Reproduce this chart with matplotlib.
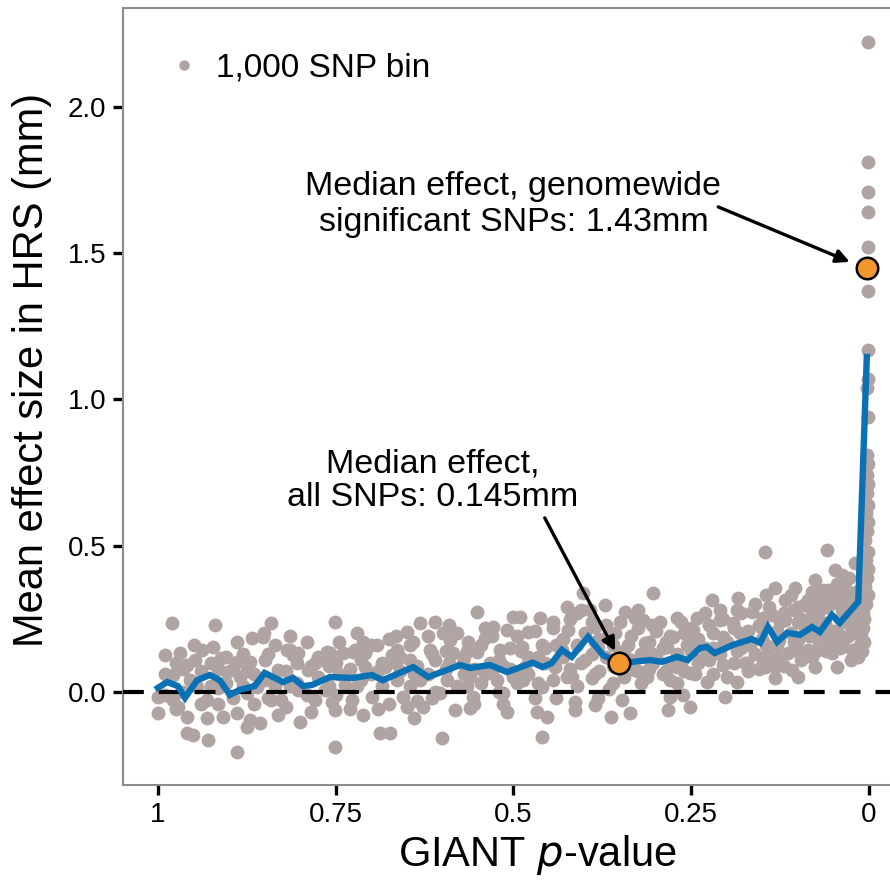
import matplotlib
matplotlib.use("Agg")
import matplotlib.pyplot as plt
from matplotlib.lines import Line2D

plt.rcParams['font.family'] = ['Liberation Sans', 'DejaVu Sans']

# ---- 1,000 SNP bins: GIANT p-value (x) and mean effect in HRS (mm) ----
bin_p = [0.980, 0.920, 0.990, 0.969, 0.938, 0.959, 0.948, 0.923, 0.911, 0.889,
         0.868, 0.852, 0.889, 0.871, 0.903, 0.885, 0.979, 1.000, 1.000, 0.972,
         0.959, 0.931, 0.909, 0.889, 0.871, 0.857, 0.959, 0.951, 0.930, 0.889,
         0.979, 0.931, 0.945, 0.916, 0.875, 0.861,
         0.841, 0.851, 0.751, 0.712, 0.692, 0.819, 0.810, 0.762, 0.726, 0.688,
         0.751, 0.712, 0.800, 0.831, 0.751,
         0.814, 0.803, 0.758, 0.740, 0.709, 0.723, 0.671, 0.779, 0.765, 0.789,
         0.831, 0.709, 0.681, 0.841, 0.827, 0.779, 0.755, 0.727, 0.699, 0.803,
         0.765, 0.737,
         0.551, 0.631, 0.610, 0.599, 0.650, 0.529, 0.509, 0.501, 0.641, 0.589,
         0.564, 0.540, 0.664, 0.617, 0.585, 0.551, 0.519, 0.646, 0.571, 0.533,
         0.664, 0.631, 0.593, 0.561, 0.523, 0.501, 0.655, 0.603, 0.557, 0.515,
         0.650, 0.627, 0.582, 0.561, 0.509, 0.601, 0.674,
         0.402, 0.371, 0.491, 0.463, 0.411, 0.392, 0.343, 0.329, 0.479, 0.444,
         0.423, 0.385, 0.357, 0.325, 0.488, 0.460, 0.432, 0.381, 0.339, 0.484,
         0.442, 0.418, 0.390, 0.360, 0.329, 0.487, 0.460, 0.414, 0.381, 0.347,
         0.467, 0.453, 0.414, 0.385, 0.363, 0.460, 0.336,
         0.146, 0.304, 0.221, 0.184, 0.165, 0.318, 0.294, 0.270, 0.242, 0.210,
         0.191, 0.149, 0.276, 0.248, 0.205, 0.181, 0.315, 0.284, 0.256, 0.219,
         0.167, 0.304, 0.270, 0.238, 0.205, 0.172, 0.149, 0.312, 0.280, 0.252,
         0.228, 0.186, 0.280, 0.262, 0.203, 0.283, 0.252,
         0.059, 0.048, 0.038, 0.076, 0.020, 0.132, 0.104, 0.058, 0.034, 0.118,
         0.086, 0.066, 0.044, 0.100, 0.072, 0.038, 0.020, 0.136, 0.118, 0.086,
         0.062, 0.030, 0.010, 0.127, 0.100, 0.072, 0.038, 0.015, 0.142, 0.114,
         0.086, 0.052, 0.024, 0.132, 0.108, 0.076, 0.045, 0.132, 0.100, 0.146]
bin_y = [0.236, 0.229, 0.126, 0.133, 0.144, 0.092, 0.109, 0.154, 0.116, 0.171,
         0.185, 0.188, 0.103, 0.103, 0.068, 0.051, 0.058, -0.017, -0.072, -0.051,
         -0.085, -0.089, -0.085, -0.072, -0.096, -0.106, -0.140, -0.147, -0.164, -0.205,
         -0.027, -0.027, 0.017, 0.014, -0.003, 0.017,
         0.236, 0.200, 0.240, 0.171, 0.161, 0.144, 0.126, 0.137, 0.137, -0.140,
         -0.188, -0.079, -0.103, -0.079, -0.062,
         0.144, 0.133, 0.133, 0.133, 0.133, 0.144, 0.126, 0.099, 0.109, 0.075,
         0.075, 0.085, 0.085, -0.027, -0.027, -0.027, -0.034, -0.027, -0.017, 0.007,
         0.007, 0.024,
         0.274, 0.236, 0.240, 0.200, 0.205, 0.222, 0.212, 0.256, 0.171, 0.178,
         0.171, 0.185, 0.144, 0.144, 0.133, 0.137, 0.144, 0.109, 0.099, 0.099,
         0.040, 0.040, 0.040, 0.051, 0.040, 0.051, -0.017, -0.003, -0.017, -0.003,
         -0.051, -0.051, -0.062, -0.055, -0.068, -0.157, -0.140,
         0.338, 0.297, 0.256, 0.253, 0.270, 0.280, 0.274, 0.253, 0.205, 0.219,
         0.212, 0.222, 0.200, 0.219, 0.154, 0.161, 0.144, 0.150, 0.161, 0.085,
         0.085, 0.051, 0.048, 0.031, 0.075, 0.040, 0.017, -0.034, -0.021, -0.027,
         -0.068, -0.085, -0.062, -0.044, -0.085, -0.154, -0.072,
         0.479, 0.338, 0.315, 0.321, 0.274, 0.246, 0.240, 0.253, 0.253, 0.246,
         0.236, 0.253, 0.188, 0.212, 0.188, 0.202, 0.168, 0.154, 0.161, 0.150,
         0.161, 0.099, 0.085, 0.109, 0.092, 0.099, 0.099, 0.051, 0.040, 0.065,
         0.034, 0.034, -0.017, -0.010, -0.017, -0.062, -0.051,
         0.485, 0.417, 0.400, 0.383, 0.441, 0.356, 0.356, 0.349, 0.356, 0.315,
         0.315, 0.315, 0.325, 0.291, 0.270, 0.280, 0.291, 0.263, 0.246, 0.246,
         0.236, 0.236, 0.256, 0.178, 0.178, 0.178, 0.188, 0.202, 0.133, 0.133,
         0.144, 0.133, 0.144, 0.085, 0.075, 0.085, 0.085, 0.048, 0.051, 0.085]

# denser core of bins around the trend
core_p = [0.990, 0.990, 0.965, 0.965, 0.955, 0.940, 0.940, 0.925, 0.925, 0.905,
          0.905, 0.895, 0.895, 0.880, 0.880, 0.865, 0.865, 0.850, 0.850, 0.835,
          0.835, 0.820, 0.820, 0.805, 0.805, 0.790, 0.790, 0.775, 0.775, 0.760,
          0.760, 0.745, 0.745, 0.730, 0.730, 0.715, 0.715, 0.700, 0.700, 0.685,
          0.685, 0.675, 0.675, 0.660, 0.660, 0.645, 0.645, 0.635, 0.635, 0.620,
          0.620, 0.610, 0.610, 0.595, 0.595, 0.580, 0.580, 0.570, 0.570, 0.555,
          0.555, 0.545, 0.545, 0.530, 0.530, 0.520, 0.520, 0.505, 0.505, 0.495,
          0.495, 0.480, 0.480, 0.470, 0.470, 0.455, 0.455, 0.445, 0.445, 0.430,
          0.430, 0.420, 0.420, 0.410, 0.410, 0.400, 0.400, 0.390, 0.390, 0.380,
          0.380, 0.370, 0.370, 0.360, 0.360, 0.345, 0.345, 0.335, 0.335, 0.320,
          0.320, 0.310, 0.310, 0.300, 0.300, 0.290, 0.290, 0.280, 0.280, 0.270,
          0.270, 0.260, 0.260, 0.250, 0.250, 0.240, 0.240, 0.230, 0.230, 0.220,
          0.220, 0.210, 0.210, 0.200, 0.200, 0.190, 0.190, 0.180, 0.180, 0.170,
          0.170, 0.160, 0.160, 0.150, 0.150, 0.140, 0.140, 0.130, 0.130, 0.120,
          0.120, 0.110, 0.110, 0.100, 0.100, 0.090, 0.090, 0.080, 0.080, 0.070,
          0.070, 0.060, 0.060, 0.050, 0.050, 0.040, 0.040, 0.030, 0.030, 0.025,
          0.025, 0.018, 0.018, 0.012, 0.012,
          0.975, 0.975, 0.950, 0.950, 0.915, 0.915, 0.875, 0.875, 0.845, 0.845,
          0.815, 0.815, 0.785, 0.785, 0.750, 0.750, 0.720, 0.720, 0.690, 0.690,
          0.665, 0.665, 0.640, 0.640, 0.615, 0.615, 0.590, 0.590, 0.565, 0.565,
          0.540, 0.540, 0.515, 0.515, 0.490, 0.490, 0.465, 0.465, 0.440, 0.440,
          0.425, 0.425, 0.405, 0.405, 0.385, 0.385, 0.365, 0.365, 0.350, 0.350,
          0.325, 0.325, 0.305, 0.305, 0.285, 0.285, 0.265, 0.265, 0.245, 0.245,
          0.225, 0.225, 0.205, 0.205, 0.185, 0.185, 0.175, 0.175, 0.155, 0.155,
          0.145, 0.145, 0.125, 0.125, 0.105, 0.105, 0.095, 0.095, 0.085, 0.085,
          0.075, 0.075, 0.065, 0.065, 0.055, 0.055, 0.045, 0.045, 0.035, 0.035,
          0.028, 0.028, 0.022, 0.022, 0.015, 0.015, 0.010, 0.010, 0.007, 0.007]
core_y = [0.060, -0.010, 0.080, 0.000, 0.040, 0.070, -0.040, 0.100, 0.020, 0.030,
          0.120, -0.020, 0.080, 0.130, 0.020, 0.060, -0.040, 0.110, 0.040, 0.020,
          0.160, 0.070, -0.050, 0.100, 0.030, 0.170, -0.010, 0.050, 0.120, 0.020,
          0.090, 0.170, 0.060, 0.080, -0.060, 0.040, 0.110, 0.160, 0.060, 0.020,
          0.100, 0.180, -0.040, 0.070, 0.120, 0.020, 0.160, 0.090, -0.030, 0.060,
          0.190, 0.110, 0.000, 0.080, 0.140, 0.020, 0.200, 0.120, 0.060, 0.080,
          -0.040, 0.160, 0.030, 0.070, 0.190, 0.110, 0.000, 0.150, 0.080, 0.030,
          0.190, 0.120, 0.060, 0.210, -0.020, 0.100, 0.150, 0.040, 0.240, 0.120,
          0.180, 0.080, 0.250, 0.160, 0.020, 0.200, 0.110, 0.130, 0.240, 0.180,
          0.070, 0.120, 0.230, 0.090, 0.160, 0.140, 0.050, 0.110, 0.190, 0.130,
          0.030, 0.170, 0.080, 0.120, 0.210, 0.060, 0.150, 0.190, 0.100, 0.130,
          0.030, 0.200, 0.070, 0.140, 0.220, 0.100, 0.180, 0.150, 0.270, 0.060,
          0.200, 0.130, 0.280, 0.170, 0.050, 0.100, 0.220, 0.150, 0.270, 0.210,
          0.070, 0.130, 0.300, 0.180, 0.220, 0.110, 0.290, 0.210, 0.160, 0.090,
          0.270, 0.200, 0.330, 0.140, 0.240, 0.210, 0.300, 0.120, 0.340, 0.230,
          0.180, 0.290, 0.140, 0.210, 0.310, 0.250, 0.150, 0.320, 0.190, 0.270,
          0.110, 0.340, 0.230, 0.270, 0.160,
          0.100, -0.060, 0.030, 0.160, -0.040, 0.080, 0.070, -0.120, 0.130, -0.020,
          0.020, 0.190, 0.090, -0.070, 0.100, -0.010, 0.200, 0.020, 0.070, -0.060,
          0.100, 0.190, 0.060, -0.090, 0.130, -0.020, 0.100, 0.230, 0.020, 0.140,
          0.060, 0.220, 0.090, -0.040, 0.140, 0.060, 0.120, 0.030, 0.160, -0.020,
          0.050, 0.290, 0.100, 0.280, 0.060, 0.170, 0.200, 0.010, 0.240, 0.120,
          0.070, 0.280, 0.130, 0.230, 0.170, 0.070, 0.090, 0.240, 0.180, 0.060,
          0.110, 0.230, 0.250, 0.160, 0.140, 0.280, 0.180, 0.100, 0.230, 0.080,
          0.160, 0.330, 0.240, 0.120, 0.170, 0.280, 0.250, 0.110, 0.190, 0.290,
          0.140, 0.310, 0.200, 0.350, 0.170, 0.300, 0.210, 0.370, 0.180, 0.290,
          0.240, 0.390, 0.200, 0.330, 0.240, 0.120, 0.360, 0.140, 0.250, 0.170]

# column of most significant bins (p close to 0)
top_p = [0.004, 0.002, 0.005, 0.003, 0.001, 0.004, 0.002, 0.005, 0.003, 0.001,
         0.004, 0.002, 0.003, 0.001, 0.003, 0.002, 0.003, 0.002, 0.003, 0.002,
         0.002, 0.002, 0.002, 0.002, 0.002, 0.002, 0.002, 0.008, 0.007, 0.009,
         0.006, 0.008, 0.011, 0.012]
top_y = [0.300, 0.330, 0.360, 0.390, 0.420, 0.450, 0.480, 0.520, 0.550, 0.580,
         0.610, 0.640, 0.680, 0.710, 0.740, 0.780, 0.810, 0.940, 1.040, 1.070,
         1.170, 1.370, 1.520, 1.640, 1.710, 1.810, 2.220, 0.270, 0.330, 0.380,
         0.430, 0.220, 0.190, 0.310]

# ---- running mean of bins (blue line) ----
trend_p = [1.000, 0.987, 0.972, 0.962, 0.945, 0.927, 0.913, 0.899, 0.885, 0.864,
           0.850, 0.824, 0.810, 0.796, 0.783, 0.758, 0.726, 0.699, 0.684, 0.641,
           0.620, 0.575, 0.561, 0.533, 0.509, 0.473, 0.459, 0.446, 0.432, 0.418,
           0.395, 0.374, 0.352, 0.332, 0.308, 0.291, 0.270, 0.255, 0.238, 0.228,
           0.217, 0.191, 0.165, 0.153, 0.142, 0.129, 0.115, 0.097, 0.080, 0.069,
           0.052, 0.041, 0.015, 0.003]
trend_y = [0.014, 0.034, 0.020, -0.020, 0.040, 0.058, 0.040, -0.010, 0.007, 0.020,
           0.065, 0.034, 0.048, 0.020, 0.024, 0.051, 0.048, 0.058, 0.040, 0.085,
           0.051, 0.092, 0.082, 0.092, 0.068, 0.100, 0.085, 0.099, 0.144, 0.120,
           0.188, 0.126, 0.099, 0.103, 0.109, 0.103, 0.120, 0.109, 0.150, 0.154,
           0.133, 0.161, 0.181, 0.168, 0.222, 0.171, 0.202, 0.195, 0.222, 0.205,
           0.263, 0.236, 0.308, 1.145]

# ---- medians (orange) ----
median_p = [0.352, 0.003]
median_y = [0.100, 1.450]
median_text = ["Median effect,\nall SNPs: 0.145mm",
               "Median effect, genomewide\nsignificant SNPs: 1.43mm"]

x_ticks = [1, 0.75, 0.5, 0.25, 0]
x_ticklabels = ["1", "0.75", "0.5", "0.25", "0"]
y_ticks = [0.0, 0.5, 1.0, 1.5, 2.0]
y_ticklabels = ["0.0", "0.5", "1.0", "1.5", "2.0"]

GRAY = '#b0a4a2'
BLUE = '#0a72b4'
ORANGE = '#f2972f'

fig = plt.figure(figsize=(8.9, 8.82), dpi=100)
ax = fig.add_axes([0.1382, 0.110, 0.872, 0.881])

ms = 100
ax.scatter(core_p, core_y, s=ms, color=GRAY, linewidths=0, zorder=2)
ax.scatter(bin_p, bin_y, s=ms, color=GRAY, linewidths=0, zorder=2)
ax.scatter(top_p, top_y, s=ms, color=GRAY, linewidths=0, zorder=2)

ax.axhline(0, color='black', lw=3.0, linestyle=(0, (5, 3.6)), zorder=3)
ax.plot(trend_p, trend_y, color=BLUE, lw=4.6, solid_joinstyle='miter', zorder=4)
ax.scatter(median_p, median_y, s=240, color=ORANGE, edgecolors='black',
           linewidths=1.8, zorder=6)

# annotation texts
ax.text(0.613, 0.722, median_text[0], ha='center', va='center',
        fontsize=24.5, linespacing=1.12, zorder=7)
ax.text(0.500, 1.666, median_text[1], ha='center', va='center',
        fontsize=24.5, linespacing=1.22, zorder=7)
# arrows
ax.annotate('', xy=(0.357, 0.140), xytext=(0.456, 0.595),
            arrowprops=dict(arrowstyle='-|>', color='black', lw=2.4,
                            mutation_scale=20, shrinkA=0, shrinkB=0),
            zorder=7)
ax.annotate('', xy=(0.027, 1.470), xytext=(0.212, 1.658),
            arrowprops=dict(arrowstyle='-|>', color='black', lw=2.4,
                            mutation_scale=20, shrinkA=0, shrinkB=0),
            zorder=7)

ax.set_xlim(1.0492, -0.0424)
ax.set_ylim(-0.318, 2.338)
ax.set_xticks(x_ticks)
ax.set_xticklabels(x_ticklabels)
ax.set_yticks(y_ticks)
ax.set_yticklabels(y_ticklabels)
ax.tick_params(axis='both', direction='out', length=7, width=2.4,
               color='black', labelsize=20, pad=5)

for side in ['left', 'top', 'bottom', 'right']:
    ax.spines[side].set_color('#8c8c8c')
    ax.spines[side].set_linewidth(1.5)

ax.set_xlabel('GIANT $p$-value', fontsize=30)
ax.set_ylabel('Mean effect size in HRS (mm)', fontsize=30)
ax.xaxis.set_label_coords(0.5335, -0.062)
ax.yaxis.set_label_coords(-0.092, 0.534)

handle = Line2D([], [], linestyle='none', marker='o', markersize=7.5,
                markerfacecolor=GRAY, markeredgewidth=0)
ax.legend([handle], ['1,000 SNP bin'], loc='upper left', frameon=False,
          fontsize=24, handletextpad=0.15, handlelength=1.6,
          borderaxespad=0.5, bbox_to_anchor=(0.006, 0.981))

fig.savefig('out.png', dpi=100)
